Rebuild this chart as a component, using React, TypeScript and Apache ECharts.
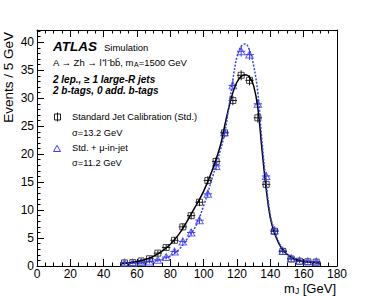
import React, { useEffect, useRef } from 'react';
import * as echarts from 'echarts';

// m_J bin centres (GeV), 5 GeV bins
const binCenters = [52.5, 57.5, 62.5, 67.5, 72.5, 77.5, 82.5, 87.5, 92.5, 97.5, 102.5, 107.5, 112.5, 117.5, 122.5, 127.5, 132.5, 137.5, 142.5, 147.5, 152.5, 157.5, 162.5, 167.5];
// Standard Jet Calibration (Std.)
const stdValues = [0.55, 0.6, 0.9, 1.3, 2.3, 3.3, 4.6, 7.0, 9.0, 11.4, 15.3, 18.7, 23.8, 29.6, 34.1, 33.2, 26.5, 14.6, 6.2, 2.6, 1.25, 0.85, 0.75, 0.7];
const stdErrors = [0.3, 0.3, 0.35, 0.4, 0.45, 0.5, 0.55, 0.6, 0.65, 0.7, 0.75, 0.8, 0.8, 0.85, 0.9, 0.9, 0.85, 0.7, 0.5, 0.4, 0.35, 0.3, 0.3, 0.3];
// Std. + mu-in-jet
const muValues = [0.6, 0.6, 0.7, 0.8, 1.1, 1.6, 2.6, 4.4, 6.0, 8.2, 12.9, 17.9, 23.9, 32.3, 38.4, 37.8, 29.0, 16.1, 6.4, 2.7, 1.4, 0.95, 0.85, 0.8];
const muErrors = [0.3, 0.3, 0.35, 0.35, 0.4, 0.45, 0.5, 0.55, 0.6, 0.65, 0.7, 0.8, 0.85, 0.9, 0.95, 0.95, 0.85, 0.7, 0.5, 0.4, 0.35, 0.3, 0.3, 0.3];
// Fitted curves
const fitMass = [50, 55, 60, 65, 70, 75, 80, 85, 90, 95, 100, 105, 110, 112.5, 115, 117.5, 120, 122.5, 125, 127.5, 130, 132.5, 135, 137.5, 140, 142.5, 145, 147.5, 150, 155, 160, 165, 170];
const stdFit = [0.4, 0.55, 0.8, 1.15, 1.75, 2.65, 3.9, 5.6, 8.0, 10.6, 13.4, 17.0, 21.5, 24.9, 28.2, 31.0, 32.9, 33.9, 34.2, 33.8, 32.2, 28.3, 20.8, 13.8, 8.6, 5.9, 4.1, 2.9, 2.1, 1.2, 0.85, 0.65, 0.5];
const muFit = [0.5, 0.5, 0.55, 0.65, 0.85, 1.2, 1.8, 2.9, 4.8, 7.0, 10.8, 15.6, 20.7, 23.6, 28.2, 33.3, 37.4, 39.3, 39.7, 38.6, 35.8, 31.0, 22.3, 14.8, 9.1, 6.2, 4.3, 3.0, 2.15, 1.3, 0.9, 0.7, 0.55];

const FONT = "'Liberation Sans', Arial, Helvetica, sans-serif";
const BLUE = '#3c3cf2';
const BLACK = '#1a1a1a';

function errRender(color: string) {
  return (params: any, api: any) => {
    const x = api.value(0);
    const y = api.value(1);
    const e = api.value(2);
    const l = api.coord([x - 2.5, y]);
    const r = api.coord([x + 2.5, y]);
    const t = api.coord([x, y + e]);
    const b = api.coord([x, y - e]);
    return {
      type: 'group',
      children: [
        { type: 'line', shape: { x1: l[0], y1: l[1], x2: r[0], y2: r[1] }, style: { stroke: color, lineWidth: 1 } },
        { type: 'line', shape: { x1: t[0], y1: t[1], x2: b[0], y2: b[1] }, style: { stroke: color, lineWidth: 1 } },
      ],
    };
  };
}

export default function App() {
  const ref = useRef<HTMLDivElement>(null);
  useEffect(() => {
    document.body.style.margin = '0';
    if (!ref.current) return;
    const chart = echarts.init(ref.current, null, { renderer: 'svg' });
    const stdPts = binCenters.map((x, i) => [x, stdValues[i], stdErrors[i]]);
    const muPts = binCenters.map((x, i) => [x, muValues[i], muErrors[i]]);
    const YMAX = 42.2;
    const txt = (text: string, x: number, y: number, size: number, extra: any = {}) => ({
      type: 'text',
      x,
      y,
      style: { text, fontFamily: FONT, fontSize: size, fill: '#000', align: 'left', verticalAlign: 'middle', ...extra },
    });
    chart.setOption({
      animation: false,
      backgroundColor: '#fff',
      grid: { left: 37, right: 37, top: 30, bottom: 30 },
      xAxis: [
        {
          type: 'value', min: 0, max: 180, interval: 20, position: 'bottom',
          axisLine: { show: true, lineStyle: { color: '#000', width: 1 } },
          axisTick: { show: true, inside: true, length: 7, lineStyle: { color: '#000' } },
          minorTick: { show: true, splitNumber: 4, length: 3.5, lineStyle: { color: '#000' } },
          splitLine: { show: false },
          axisLabel: { color: '#000', fontFamily: FONT, fontSize: 12, margin: 2 },
        },
        {
          type: 'value', min: 0, max: 180, interval: 20, position: 'top',
          axisLine: { show: true, onZero: false, lineStyle: { color: '#000', width: 1 } },
          axisTick: { show: true, inside: true, length: 7, lineStyle: { color: '#000' } },
          minorTick: { show: true, splitNumber: 4, length: 3.5, lineStyle: { color: '#000' } },
          splitLine: { show: false },
          axisLabel: { show: false },
        },
      ],
      yAxis: [
        {
          type: 'value', min: 0, max: YMAX, interval: 5, position: 'left',
          axisLine: { show: true, onZero: false, lineStyle: { color: '#000', width: 1 } },
          axisTick: { show: true, inside: true, length: 7, lineStyle: { color: '#000' } },
          splitLine: { show: false },
          axisLabel: {
            color: '#000', fontFamily: FONT, fontSize: 12, margin: 3,
            formatter: (v: number) => (Math.abs(v % 5) < 1e-6 ? String(v) : ''),
          },
        },
        {
          type: 'value', min: 0, max: YMAX, interval: 1, position: 'left',
          axisLine: { show: false },
          axisTick: { show: true, inside: true, length: 3.5, lineStyle: { color: '#000' } },
          splitLine: { show: false },
          axisLabel: { show: false },
        },
        {
          type: 'value', min: 0, max: YMAX, interval: 5, position: 'right',
          axisLine: { show: true, onZero: false, lineStyle: { color: '#000', width: 1 } },
          axisTick: { show: false },
          splitLine: { show: false },
          axisLabel: { show: false },
        },
      ],
      series: [
        {
          type: 'custom', name: 'stdErr', xAxisIndex: 0, yAxisIndex: 0,
          renderItem: errRender(BLACK), data: stdPts, z: 3,
        },
        {
          type: 'scatter', name: 'Standard Jet Calibration (Std.)', xAxisIndex: 0, yAxisIndex: 0,
          symbol: 'rect', symbolSize: [6, 6],
          itemStyle: { color: 'rgba(255,255,255,0)', borderColor: BLACK, borderWidth: 1 },
          data: binCenters.map((x, i) => [x, stdValues[i]]), z: 4,
        },
        {
          type: 'custom', name: 'muErr', xAxisIndex: 0, yAxisIndex: 0,
          renderItem: errRender(BLUE), data: muPts, z: 3,
        },
        {
          type: 'scatter', name: 'Std. + μ-in-jet', xAxisIndex: 0, yAxisIndex: 0,
          symbol: 'triangle', symbolSize: [7.5, 7],
          itemStyle: { color: 'rgba(255,255,255,0)', borderColor: BLUE, borderWidth: 1 },
          data: binCenters.map((x, i) => [x, muValues[i]]), z: 4,
        },
        {
          type: 'line', name: 'stdFit', xAxisIndex: 0, yAxisIndex: 0, smooth: 0.4, showSymbol: false,
          lineStyle: { color: '#000', width: 1.5 },
          data: fitMass.map((x, i) => [x, stdFit[i]]), z: 5,
        },
        {
          type: 'line', name: 'muFit', xAxisIndex: 0, yAxisIndex: 0, smooth: 0.4, showSymbol: false,
          lineStyle: { color: BLUE, width: 1.5, type: [2, 1.5] },
          data: fitMass.map((x, i) => [x, muFit[i]]), z: 5,
        },
      ],
      graphic: [
        txt('ATLAS', 53, 46.5, 13.5, { fontWeight: 'bold', fontStyle: 'italic' }),
        txt('Simulation', 104, 47, 9.5),
        {
          type: 'text', x: 53, y: 62,
          style: {
            text: '{a|A → Zh → l⁺l⁻bb̄, m}{b|A}{a|=1500 GeV}',
            fontFamily: FONT, fill: '#000', align: 'left', verticalAlign: 'middle',
            rich: {
              a: { fontFamily: FONT, fontSize: 9.5, lineHeight: 12, verticalAlign: 'middle', color: '#000' },
              b: { fontFamily: FONT, fontSize: 7, lineHeight: 12, verticalAlign: 'bottom', color: '#000' },
            },
          },
        },
        txt('2 lep., ≥ 1 large-R jets', 53, 79.5, 10, { fontWeight: 'bold', fontStyle: 'italic' }),
        txt('2 b-tags, 0 add. b-tags', 53, 90.5, 10, { fontWeight: 'bold', fontStyle: 'italic' }),
        { type: 'rect', shape: { x: 54.5, y: 114, width: 6, height: 6 }, style: { fill: 'none', stroke: BLACK, lineWidth: 1 } },
        { type: 'line', shape: { x1: 57.5, y1: 112.5, x2: 57.5, y2: 121.5 }, style: { stroke: BLACK, lineWidth: 1 } },
        txt('Standard Jet Calibration (Std.)', 72, 116.5, 9.3),
        txt('σ=13.2 GeV', 72, 132.5, 9.3),
        { type: 'polygon', shape: { points: [[53.5, 151.5], [60.5, 151.5], [57, 145.3]] }, style: { fill: 'none', stroke: BLUE, lineWidth: 1 } },
        txt('Std. + μ-in-jet', 72, 148, 9.3),
        txt('σ=11.2 GeV', 72, 162.5, 9.3),
        {
          type: 'text', x: 8, y: 32, rotation: Math.PI / 2,
          style: { text: 'Events / 5 GeV', fontFamily: FONT, fontSize: 13.5, fill: '#000', align: 'right', verticalAlign: 'middle' },
        },
        {
          type: 'text', x: 336, y: 288.5,
          style: {
            text: '{a|m}{b|J}{a| [GeV]}',
            fontFamily: FONT, fill: '#000', align: 'right', verticalAlign: 'middle',
            rich: {
              a: { fontFamily: FONT, fontSize: 13, lineHeight: 14, verticalAlign: 'middle', color: '#000' },
              b: { fontFamily: FONT, fontSize: 8.5, lineHeight: 14, verticalAlign: 'bottom', color: '#000' },
            },
          },
        },
      ],
    });
    return () => chart.dispose();
  }, []);
  return <div ref={ref} style={{ width: 374, height: 296 }} />;
}
